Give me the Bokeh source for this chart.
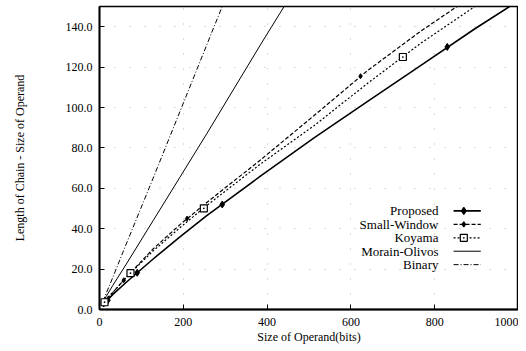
from bokeh.plotting import figure
from bokeh.models import Range1d, PrintfTickFormatter, FixedTicker, Label
from bokeh.embed import file_html
from bokeh.resources import INLINE

# ---- data ----
sizes = [8, 16, 32, 64, 128, 192, 256, 384, 512, 640, 768, 896, 1024]
proposed = [2.5, 4.0, 7.5, 13.5, 25.0, 36.0, 46.5, 66.0, 85.0, 103.0, 121.0, 139.0, 156.0]
small_window = [3.0, 5.0, 8.5, 16.0, 30.0, 42.0, 53.0, 74.0, 96.0, 118.3, 138.0, 156.0, 173.0]
koyama = [3.0, 5.0, 8.5, 16.0, 29.0, 40.5, 51.5, 72.0, 91.0, 112.0, 132.0, 150.0, 169.0]
morain_olivos = [3.5, 6.5, 12.0, 22.5, 44.0, 65.5, 87.0, 131.0, 174.0, 218.0, 261.0, 305.0, 348.0]
binary = [4.0, 8.0, 16.0, 32.5, 65.0, 98.0, 131.0, 197.0, 262.0, 328.0, 393.0, 459.0, 524.0]

proposed_mx = [10, 20, 90, 293, 830]
proposed_my = [3.0, 4.6, 18.2, 52.0, 130.0]
small_window_mx = [14, 58, 209, 623]
small_window_my = [4.0, 14.5, 45.0, 115.5]
koyama_mx = [12, 74, 249, 724]
koyama_my = [3.6, 18.0, 50.1, 125.0]

x_ticks = [0, 200, 400, 600, 800, 1000]
y_ticks = [0, 20, 40, 60, 80, 100, 120, 140]

series_names = ["Proposed", "Small-Window", "Koyama", "Morain-Olivos", "Binary"]

FONT = "Liberation Serif"
INK = "#000000"

p = figure(frame_width=419, frame_height=303, output_backend="svg", toolbar_location=None,
           x_range=Range1d(0, 1000), y_range=Range1d(0, 150),
           min_border_left=99, min_border_right=0, min_border_top=6, min_border_bottom=37,
           background_fill_color="white", border_fill_color="white")

p.outline_line_color = INK
p.outline_line_width = 1.5

for ax in (p.xaxis[0], p.yaxis[0]):
    ax.major_tick_in = 5
    ax.major_tick_out = 0
    ax.minor_tick_line_color = None
    ax.axis_line_color = INK
    ax.axis_line_width = 1.8
    ax.major_tick_line_color = INK
    ax.major_label_text_font = FONT
    ax.major_label_text_font_size = "12px"
    ax.major_label_text_color = INK
    ax.axis_label_text_font = FONT
    ax.axis_label_text_font_size = "12px"
    ax.axis_label_text_font_style = "normal"
    ax.axis_label_text_color = INK

p.xaxis.ticker = FixedTicker(ticks=x_ticks)
p.yaxis.ticker = FixedTicker(ticks=y_ticks)
p.yaxis.formatter = PrintfTickFormatter(format="%.1f")
p.xaxis.axis_label = "Size of Operand(bits)"
p.yaxis.axis_label = "Length of Chain - Size of Operand"
p.xaxis.major_label_standoff = 8
p.xaxis.axis_label_standoff = 1
p.yaxis.major_label_standoff = 7
p.yaxis.axis_label_standoff = 36

p.xgrid.ticker = FixedTicker(ticks=x_ticks)
p.ygrid.ticker = FixedTicker(ticks=y_ticks)
p.grid.grid_line_color = "#888888"
p.grid.grid_line_alpha = 0.6
p.grid.grid_line_dash = "1 14"

# curves
p.line(sizes, binary, line_color=INK, line_width=1.0, line_dash="5 2 1 2")
p.line(sizes, morain_olivos, line_color=INK, line_width=1.0)
p.line(sizes, koyama, line_color=INK, line_width=1.2, line_dash="2 2")
p.line(sizes, small_window, line_color=INK, line_width=1.2, line_dash="4 2")
p.line(sizes, proposed, line_color=INK, line_width=1.6)

p.scatter(proposed_mx, proposed_my, marker="diamond", size=7, color=INK)
p.scatter(small_window_mx, small_window_my, marker="diamond", size=5, color=INK)
p.scatter(koyama_mx, koyama_my, marker="square_dot", size=7, line_color=INK,
          fill_color="white", line_width=1.2)

# ---- legend (gnuplot style: label, then sample on the right) ----
leg_text_x = 809
leg_x0, leg_x1 = 845, 910
leg_y0 = 48.8
leg_dy = 6.65
styles = [
    dict(line_width=1.6, line_dash="solid"),
    dict(line_width=1.2, line_dash="4 2"),
    dict(line_width=1.2, line_dash="2 2"),
    dict(line_width=1.0, line_dash="solid"),
    dict(line_width=1.0, line_dash="5 2 1 2"),
]
markers = ["diamond", "diamond", "square_dot", None, None]
msizes = [7, 5, 7, 0, 0]
for i, name in enumerate(series_names):
    yy = leg_y0 - i * leg_dy
    p.add_layout(Label(x=leg_text_x, y=yy, text=name, text_font=FONT,
                       text_font_size="13px", text_align="right",
                       text_baseline="middle", text_color=INK))
    p.line([leg_x0, leg_x1], [yy, yy], line_color=INK, **styles[i])
    if markers[i]:
        p.scatter([(leg_x0 + leg_x1) / 2 - 8], [yy], marker=markers[i], size=msizes[i],
                  line_color=INK, fill_color="white" if markers[i] == "square_dot" else INK,
                  line_width=1.2)

open("out.html", "w").write(file_html(p, INLINE))
